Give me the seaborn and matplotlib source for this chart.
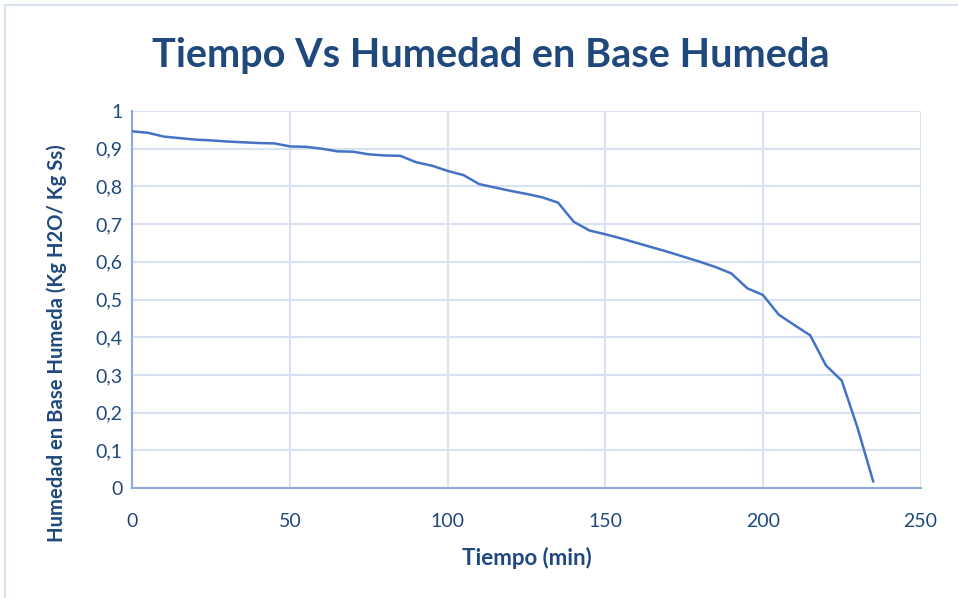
import matplotlib
matplotlib.use("Agg")
import matplotlib.pyplot as plt
from matplotlib.patches import Rectangle
import seaborn as sns
import pandas as pd

# Drying curve: time (min) vs moisture on wet basis
tiempo = [0, 5, 10, 15, 20, 25, 30, 35, 40, 45, 50, 55, 60, 65, 70, 75, 80, 85,
          90, 95, 100, 105, 110, 115, 120, 125, 130, 135, 140, 145, 150, 155,
          160, 165, 170, 175, 180, 185, 190, 195, 200, 205, 210, 215, 220, 225,
          230, 235]
humedad = [0.946, 0.942, 0.932, 0.928, 0.924, 0.922, 0.919, 0.917, 0.915, 0.914,
           0.906, 0.905, 0.900, 0.893, 0.892, 0.885, 0.882, 0.881, 0.864, 0.855,
           0.841, 0.830, 0.806, 0.797, 0.788, 0.780, 0.771, 0.757, 0.706, 0.683,
           0.673, 0.662, 0.650, 0.638, 0.626, 0.613, 0.600, 0.586, 0.569, 0.530,
           0.512, 0.460, 0.432, 0.405, 0.325, 0.285, 0.160, 0.017]

x_ticks = [0, 50, 100, 150, 200, 250]
y_ticks = [0, 0.1, 0.2, 0.3, 0.4, 0.5, 0.6, 0.7, 0.8, 0.9, 1.0]
y_tick_labels = ["0", "0,1", "0,2", "0,3", "0,4", "0,5", "0,6", "0,7", "0,8", "0,9", "1"]

titulo = "Tiempo Vs Humedad en Base Humeda"
x_label = "Tiempo (min)"
y_label = "Humedad en Base Humeda (Kg H2O/ Kg Ss)"

df = pd.DataFrame({"Tiempo": tiempo, "Humedad": humedad})

sns.set_theme(style="white")
plt.rcParams["font.family"] = ["Lato", "DejaVu Sans"]

TEXT = "#1F497D"
GRID = "#D9E2F3"
SPINE = "#8EAADB"

fig = plt.figure(figsize=(9.58, 5.98), dpi=100)
ax = fig.add_axes([0.1383, 0.1839, 0.8226, 0.6305])

sns.lineplot(data=df, x="Tiempo", y="Humedad", ax=ax, color="#4472C4",
             linewidth=1.8, zorder=3)

ax.set_xlim(0, 250)
ax.set_ylim(0, 1)
ax.set_xticks(x_ticks)
ax.set_xticklabels([str(v) for v in x_ticks])
ax.set_yticks(y_ticks)
ax.set_yticklabels(y_tick_labels)

ax.grid(True, color=GRID, linewidth=1.5)
ax.set_axisbelow(True)
for side in ("top", "right"):
    ax.spines[side].set_visible(False)
for side in ("left", "bottom"):
    ax.spines[side].set_color(SPINE)
    ax.spines[side].set_linewidth(1.5)

ax.tick_params(axis="both", length=0, labelsize=14, labelcolor=TEXT)
ax.tick_params(axis="x", pad=18)
ax.tick_params(axis="y", pad=7)

ax.set_xlabel(x_label, fontsize=16, fontweight="bold", color=TEXT)
ax.set_ylabel(y_label, fontsize=14.6, fontweight="bold", color=TEXT)
ax.xaxis.set_label_coords(0.5, -0.155)
ax.yaxis.set_label_coords(-0.083, 0.385)

fig.text(0.512, 0.907, titulo, ha="center", va="center", fontsize=28.5,
         fontweight="bold", color=TEXT)

# outer chart frame
fig.patches.append(Rectangle((5 / 958, -0.05), 1.2, 1 - 5 / 598 + 0.05,
                             transform=fig.transFigure, fill=False,
                             edgecolor="#D9E2F3", linewidth=1.5))

fig.savefig("out.png", dpi=100)
